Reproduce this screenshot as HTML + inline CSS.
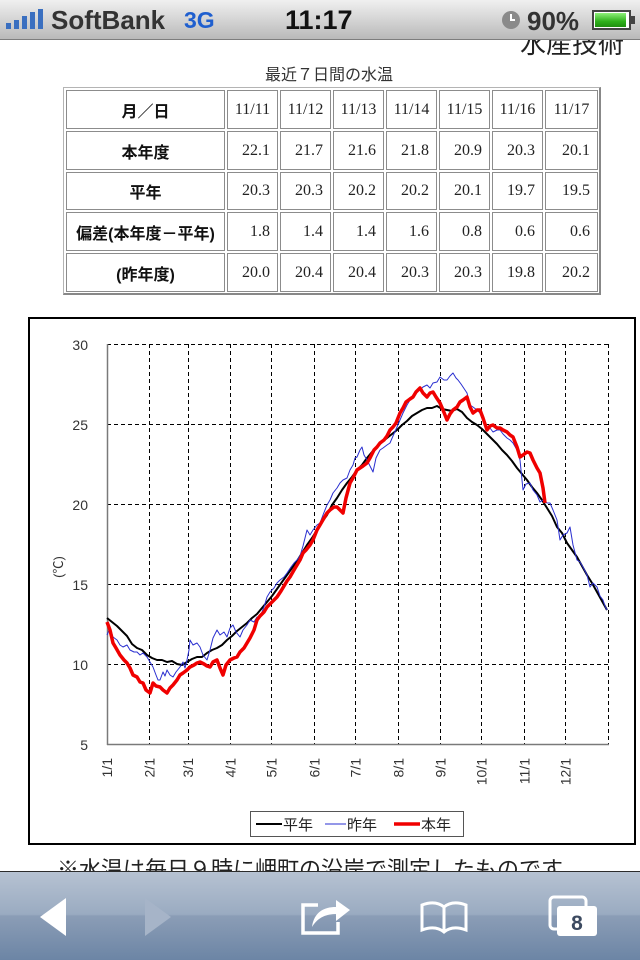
<!DOCTYPE html>
<html><head><meta charset="utf-8">
<style>
html,body{margin:0;padding:0;width:640px;height:960px;overflow:hidden;background:#fff;position:relative;}
*{box-sizing:border-box;}
.jp{font-family:"Liberation Sans","Noto Sans CJK JP",sans-serif;}
.abs{position:absolute;}
.cell{position:absolute;border:1px solid #8c8c8c;display:flex;align-items:center;font-family:"Liberation Serif","Noto Serif CJK SC",serif;font-size:16px;color:#222;}
.hd{justify-content:center;font-family:"Liberation Sans","Noto Sans CJK JP",sans-serif;font-weight:bold;font-size:16px;color:#111;}
.num{justify-content:flex-end;padding-right:7px;}
.dt{justify-content:center;}
</style></head><body>

<!-- cut off header text -->
<div class="abs jp" style="left:520px;top:24px;font-size:26px;color:#222;white-space:nowrap;">水産技術</div>

<!-- status bar -->
<div class="abs" style="left:0;top:0;width:640px;height:40px;background:linear-gradient(#f0f0f0,#d2d2d2 55%,#b9b9b9);border-bottom:1px solid #7d7d7d;z-index:5;">
  <div class="abs" style="left:6px;top:23px;width:5px;height:6px;background:#3a6fc0;"></div>
  <div class="abs" style="left:14px;top:20px;width:5px;height:9px;background:#3a6fc0;"></div>
  <div class="abs" style="left:22px;top:16px;width:5px;height:13px;background:#3a6fc0;"></div>
  <div class="abs" style="left:30px;top:12px;width:5px;height:17px;background:#3a6fc0;"></div>
  <div class="abs" style="left:38px;top:9px;width:5px;height:20px;background:#3a6fc0;"></div>
  <div class="abs" style="left:51px;top:5px;font:bold 26px 'Liberation Sans',sans-serif;color:#333;">SoftBank</div>
  <div class="abs" style="left:184px;top:7px;font:bold 23px 'Liberation Sans',sans-serif;color:#1f5fcf;">3G</div>
  <div class="abs" style="left:285px;top:5px;font:bold 27px 'Liberation Sans',sans-serif;color:#111;">11:17</div>
  <div class="abs" style="left:502px;top:11px;width:18px;height:18px;border-radius:50%;background:#8a8a8a;"></div>
  <div class="abs" style="left:510px;top:14px;width:2px;height:7px;background:#fff;"></div>
  <div class="abs" style="left:510px;top:19px;width:5px;height:2px;background:#fff;"></div>
  <div class="abs" style="left:527px;top:6px;font:bold 26px 'Liberation Sans',sans-serif;color:#333;">90%</div>
  <div class="abs" style="left:592px;top:10px;width:39px;height:20px;border:2px solid #444;background:#fff;"></div>
  <div class="abs" style="left:595px;top:13px;width:31px;height:14px;background:linear-gradient(#8ef07a,#2fb01c 60%,#1e8f10);"></div>
  <div class="abs" style="left:631px;top:16px;width:4px;height:8px;background:#444;"></div>
</div>

<!-- title -->
<div class="abs jp" style="left:265px;top:61px;font-size:16px;color:#333;white-space:nowrap;">最近７日間の水温</div>

<!-- table -->
<div class="abs" style="left:63px;top:87px;width:538px;height:208px;border-top:1px solid #b4b4b4;border-left:1px solid #b4b4b4;border-right:2px solid #888;border-bottom:2px solid #888;"></div>

<!-- row 1 -->
<div class="cell hd" style="left:66px;top:90px;width:159px;height:39px;">月／日</div>
<div class="cell dt" style="left:227px;top:90px;width:51px;height:39px;">11/11</div>
<div class="cell dt" style="left:280px;top:90px;width:51px;height:39px;">11/12</div>
<div class="cell dt" style="left:333px;top:90px;width:51px;height:39px;">11/13</div>
<div class="cell dt" style="left:386px;top:90px;width:51px;height:39px;">11/14</div>
<div class="cell dt" style="left:439px;top:90px;width:51px;height:39px;">11/15</div>
<div class="cell dt" style="left:492px;top:90px;width:51px;height:39px;">11/16</div>
<div class="cell dt" style="left:545px;top:90px;width:53px;height:39px;">11/17</div>
<!-- row 2 -->
<div class="cell hd" style="left:66px;top:131px;width:159px;height:39px;">本年度</div>
<div class="cell num" style="left:227px;top:131px;width:51px;height:39px;">22.1</div>
<div class="cell num" style="left:280px;top:131px;width:51px;height:39px;">21.7</div>
<div class="cell num" style="left:333px;top:131px;width:51px;height:39px;">21.6</div>
<div class="cell num" style="left:386px;top:131px;width:51px;height:39px;">21.8</div>
<div class="cell num" style="left:439px;top:131px;width:51px;height:39px;">20.9</div>
<div class="cell num" style="left:492px;top:131px;width:51px;height:39px;">20.3</div>
<div class="cell num" style="left:545px;top:131px;width:53px;height:39px;">20.1</div>
<!-- row 3 -->
<div class="cell hd" style="left:66px;top:172px;width:159px;height:38px;">平年</div>
<div class="cell num" style="left:227px;top:172px;width:51px;height:38px;">20.3</div>
<div class="cell num" style="left:280px;top:172px;width:51px;height:38px;">20.3</div>
<div class="cell num" style="left:333px;top:172px;width:51px;height:38px;">20.2</div>
<div class="cell num" style="left:386px;top:172px;width:51px;height:38px;">20.2</div>
<div class="cell num" style="left:439px;top:172px;width:51px;height:38px;">20.1</div>
<div class="cell num" style="left:492px;top:172px;width:51px;height:38px;">19.7</div>
<div class="cell num" style="left:545px;top:172px;width:53px;height:38px;">19.5</div>
<!-- row 4 -->
<div class="cell hd" style="left:66px;top:212px;width:159px;height:39px;">偏差(本年度－平年)</div>
<div class="cell num" style="left:227px;top:212px;width:51px;height:39px;">1.8</div>
<div class="cell num" style="left:280px;top:212px;width:51px;height:39px;">1.4</div>
<div class="cell num" style="left:333px;top:212px;width:51px;height:39px;">1.4</div>
<div class="cell num" style="left:386px;top:212px;width:51px;height:39px;">1.6</div>
<div class="cell num" style="left:439px;top:212px;width:51px;height:39px;">0.8</div>
<div class="cell num" style="left:492px;top:212px;width:51px;height:39px;">0.6</div>
<div class="cell num" style="left:545px;top:212px;width:53px;height:39px;">0.6</div>
<!-- row 5 -->
<div class="cell hd" style="left:66px;top:253px;width:159px;height:39px;">(昨年度)</div>
<div class="cell num" style="left:227px;top:253px;width:51px;height:39px;">20.0</div>
<div class="cell num" style="left:280px;top:253px;width:51px;height:39px;">20.4</div>
<div class="cell num" style="left:333px;top:253px;width:51px;height:39px;">20.4</div>
<div class="cell num" style="left:386px;top:253px;width:51px;height:39px;">20.3</div>
<div class="cell num" style="left:439px;top:253px;width:51px;height:39px;">20.3</div>
<div class="cell num" style="left:492px;top:253px;width:51px;height:39px;">19.8</div>
<div class="cell num" style="left:545px;top:253px;width:53px;height:39px;">20.2</div>

<!-- chart frame -->
<div class="abs" style="left:28px;top:317px;width:608px;height:528px;border:2px solid #000;"></div>

<svg class="abs" style="left:0;top:0;" width="640" height="960" viewBox="0 0 640 960" xmlns="http://www.w3.org/2000/svg">
  <g stroke="#000" stroke-width="1" stroke-dasharray="4,3" fill="none">
    <line x1="107" y1="344.5" x2="608.5" y2="344.5"/>
    <line x1="107" y1="424.5" x2="608.5" y2="424.5"/>
    <line x1="107" y1="504.5" x2="608.5" y2="504.5"/>
    <line x1="107" y1="584.5" x2="608.5" y2="584.5"/>
    <line x1="107" y1="664.5" x2="608.5" y2="664.5"/>
    <line x1="149.5" y1="344" x2="149.5" y2="744"/>
    <line x1="188.5" y1="344" x2="188.5" y2="744"/>
    <line x1="230.5" y1="344" x2="230.5" y2="744"/>
    <line x1="271.5" y1="344" x2="271.5" y2="744"/>
    <line x1="314.5" y1="344" x2="314.5" y2="744"/>
    <line x1="355.5" y1="344" x2="355.5" y2="744"/>
    <line x1="398.5" y1="344" x2="398.5" y2="744"/>
    <line x1="440.5" y1="344" x2="440.5" y2="744"/>
    <line x1="481.5" y1="344" x2="481.5" y2="744"/>
    <line x1="524.5" y1="344" x2="524.5" y2="744"/>
    <line x1="565.5" y1="344" x2="565.5" y2="744"/>
    <line x1="608.5" y1="344" x2="608.5" y2="744"/>
  </g>
  <line x1="107.5" y1="344" x2="107.5" y2="745" stroke="#7a7a7a" stroke-width="1.5"/>
  <line x1="107" y1="744.5" x2="609" y2="744.5" stroke="#7a7a7a" stroke-width="1.5"/>

  <g font-family="Liberation Sans, sans-serif" font-size="14" fill="#333" text-anchor="end">
    <text x="88" y="350">30</text>
    <text x="88" y="430">25</text>
    <text x="88" y="510">20</text>
    <text x="88" y="590">15</text>
    <text x="88" y="670">10</text>
    <text x="88" y="750">5</text>
  </g>
  <text transform="translate(63,567) rotate(-90)" font-family="Liberation Sans, 'Noto Sans CJK JP', sans-serif" font-size="13" fill="#333" text-anchor="middle">(℃)</text>

  <g font-family="Liberation Sans, sans-serif" font-size="14" fill="#333" text-anchor="end">
    <text transform="translate(112,758) rotate(-90)">1/1</text>
    <text transform="translate(154.5,758) rotate(-90)">2/1</text>
    <text transform="translate(193,758) rotate(-90)">3/1</text>
    <text transform="translate(235.5,758) rotate(-90)">4/1</text>
    <text transform="translate(276.5,758) rotate(-90)">5/1</text>
    <text transform="translate(319.5,758) rotate(-90)">6/1</text>
    <text transform="translate(360.5,758) rotate(-90)">7/1</text>
    <text transform="translate(403.5,758) rotate(-90)">8/1</text>
    <text transform="translate(445.5,758) rotate(-90)">9/1</text>
    <text transform="translate(486.5,758) rotate(-90)">10/1</text>
    <text transform="translate(529.5,758) rotate(-90)">11/1</text>
    <text transform="translate(570.5,758) rotate(-90)">12/1</text>
  </g>

  <!-- normal year (black) -->
  <polyline fill="none" stroke="#000" stroke-width="2" stroke-linejoin="round" points="107,618 112,622 117,626 122,631 127,636 132,644 137,648 142,650 147,655 152,658 157,660 162,660 167,662 172,661 177,664 182,665 187,662 192,659 197,657 202,657 207,653 212,650 217,648 222,645 227,640 232,636 237,631 242,627 247,623 252,618 257,614 262,608 267,602 272,596 277,589 282,582 287,575 292,568 297,561 302,553 307,545 312,538 317,530 322,522 327,515 332,505 337,498 342,490 347,483 352,477 357,470 362,465 367,458 372,452 377,447 382,442 387,438 392,434 397,430 402,425 407,421 412,416 417,413 422,410 427,408 432,408 437,406 442,409 447,410 452,411 457,409 462,412 467,418 472,422 477,425 482,429 487,434 492,439 497,444 502,450 507,455 512,461 517,468 522,474 527,480 532,487 537,493 542,500 547,508 552,516 557,527 562,533 567,543 572,550 577,557 582,566 587,575 592,583 597,592 602,601 607,610"/>

  <!-- last year (blue) -->
  <polyline fill="none" stroke="#2a2fd0" stroke-width="1" stroke-linejoin="round" points="107,635 110,628 113,637 117,640 120,645 123,647 127,645 130,650 134,652 137,652 140,655 143,653 147,657 150,662 153,667 156,675 158,680 160,680 163,672 165,676 167,670 170,675 173,677 176,672 180,667 183,662 185,668 187,660 189,650 190,640 193,645 197,643 200,647 203,655 207,660 210,650 213,638 217,630 220,635 224,632 227,637 230,628 233,625 236,632 240,637 243,630 247,625 250,620 254,622 257,617 260,617 264,607 267,597 270,592 274,588 277,583 280,580 284,577 287,573 291,567 294,563 297,560 300,556 303,546 307,530 310,535 313,530 317,525 320,523 323,515 327,505 330,500 333,493 337,488 340,483 343,480 347,478 350,470 353,465 355,458 357,457 360,450 362,447 364,455 367,460 370,466 373,472 376,458 380,450 383,448 387,445 390,443 393,436 397,427 400,420 403,413 407,405 410,400 413,397 417,392 420,390 423,387 427,385 430,388 433,383 437,382 440,377 444,380 447,380 450,376 453,373 456,378 458,380 461,384 463,387 467,393 470,405 473,407 477,410 480,413 483,420 487,427 490,428 493,432 497,430 500,430 503,434 507,438 510,440 513,443 517,450 520,460 522,480 523,490 526,484 530,483 533,490 537,495 540,502 543,500 547,503 550,503 553,510 557,520 560,540 563,535 567,533 570,527 573,545 577,560 580,562 583,567 587,575 590,587 593,583 597,587 600,596 603,600 605,606 607,610"/>

  <!-- this year (red) -->
  <polyline fill="none" stroke="#f00000" stroke-width="3.5" stroke-linejoin="round" points="107,622 110,630 113,643 116,648 120,655 124,660 127,663 130,668 133,675 137,677 140,682 143,683 146,690 150,693 153,683 156,686 160,687 163,690 167,693 170,688 173,685 177,680 180,675 183,673 187,670 190,667 194,665 197,663 200,662 204,664 207,666 210,667 213,662 217,660 220,668 223,675 226,665 230,660 234,658 237,657 240,652 244,648 247,643 250,638 254,630 257,620 260,616 264,612 267,607 271,603 274,600 277,597 281,591 284,586 287,581 290,577 294,570 297,565 300,560 303,553 306,550 310,545 313,540 317,530 320,525 324,518 327,513 330,510 334,507 337,507 340,510 343,513 346,498 350,483 353,478 357,470 360,468 363,466 367,463 370,458 374,450 377,447 380,443 384,440 387,436 390,430 393,427 396,423 400,413 403,408 406,402 410,399 413,397 416,392 420,388 423,393 427,397 430,393 433,392 436,397 440,403 443,410 447,420 450,414 453,410 457,407 460,402 463,400 467,397 470,407 473,413 477,410 480,410 483,418 487,430 490,426 493,425 497,428 500,428 503,430 507,432 510,435 513,437 517,447 520,457 523,455 527,452 530,453 533,460 537,468 540,473 543,488 545,503"/>

  <!-- legend -->
  <rect x="250.5" y="811.5" width="213" height="25" fill="#fff" stroke="#555" stroke-width="1"/>
  <line x1="256" y1="824" x2="282" y2="824" stroke="#000" stroke-width="2"/>
  <line x1="325" y1="824" x2="346" y2="824" stroke="#2a2fd0" stroke-width="1"/>
  <line x1="394" y1="824" x2="420" y2="824" stroke="#f00000" stroke-width="3.5"/>
  <g font-family="Liberation Sans, 'Noto Sans CJK JP', sans-serif" font-size="15" fill="#222">
    <text x="283" y="830">平年</text>
    <text x="347" y="830">昨年</text>
    <text x="421" y="830">本年</text>
  </g>
</svg>

<!-- footnote under toolbar -->
<div class="abs jp" style="left:57px;top:852px;font-size:22px;color:#222;white-space:nowrap;">※水温は毎日９時に岬町の沿岸で測定したものです</div>

<!-- bottom toolbar -->
<div class="abs" style="left:0;top:871px;width:640px;height:89px;border-top:1px solid #2c2c2c;background:linear-gradient(#b6c2d2,#9aabc1 48%,#8b9db6 50%,#6c85a5);z-index:5;">
  <svg class="abs" style="left:0;top:0;" width="640" height="89" viewBox="0 0 640 89" xmlns="http://www.w3.org/2000/svg">
    <polygon points="40,45 66,26 66,64" fill="#fff"/>
    <polygon points="145,26 171,45 145,64" fill="#a6b4c8"/>
    <!-- share -->
    <path d="M318,33 L303,33 L303,61 L338,61 L338,50" fill="none" stroke="#fff" stroke-width="3.5"/>
    <path d="M312,55 C314,40 324,35 336,35 L336,28 L350,38 L336,49 L336,42 C327,42 318,45 312,55 Z" fill="#fff"/>
    <!-- book -->
    <path d="M422,33 C430,30 438,30 444,35 C450,30 458,30 466,33 L466,58 C458,55 450,55 444,60 C438,55 430,55 422,58 Z M444,35 L444,60" fill="none" stroke="#fff" stroke-width="3"/>
    <!-- tabs -->
    <rect x="550" y="25" width="36" height="32" rx="4" fill="none" stroke="#fff" stroke-width="3"/>
    <rect x="557" y="34" width="40" height="30" rx="3" fill="#fff"/>
    <text x="577" y="58" font-family="Liberation Sans, sans-serif" font-weight="bold" font-size="21" fill="#3c4a60" text-anchor="middle">8</text>
  </svg>
</div>

</body></html>
